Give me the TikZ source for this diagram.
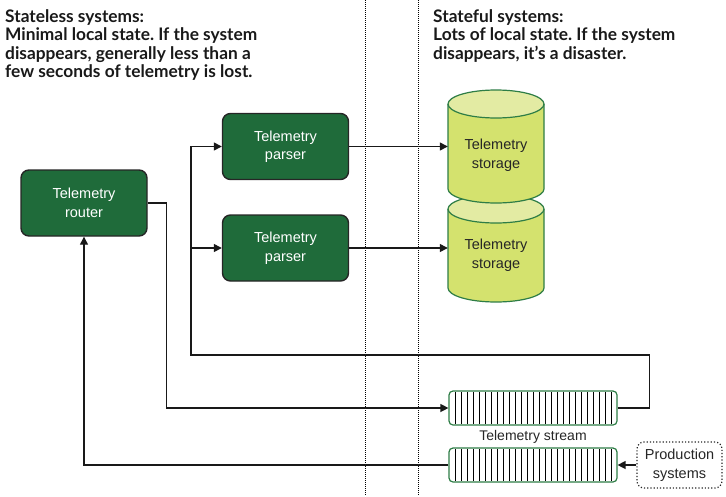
\documentclass[tikz,border=0pt]{standalone}
\usepackage{fontspec}
\setmainfont{Liberation Sans}
\newfontfamily\headfont{Lato}
\usetikzlibrary{arrows.meta}
\frenchspacing
\definecolor{dkgreen}{HTML}{1F6B3A}
\definecolor{cylbodyc}{HTML}{D4E26E}
\definecolor{cyltopc}{HTML}{E3EBA3}
\definecolor{cyllinec}{HTML}{2E7D46}
\newcommand\drawcyl[3]{%
  \fill[cylbodyc] (#1-48,#2+14) -- (#1-48,#3-14)
    arc[start angle=180,end angle=0,x radius=48,y radius=14]
    -- (#1+48,#2+14)
    arc[start angle=0,end angle=-180,x radius=48,y radius=14] -- cycle;
  \filldraw[fill=cyltopc,draw=cyllinec,line width=1.2pt] (#1,#2+14) ellipse[x radius=48,y radius=14];
  \draw[cyllinec,line width=1.2pt] (#1-48,#2+14) -- (#1-48,#3-14)
    arc[start angle=180,end angle=0,x radius=48,y radius=14]
    -- (#1+48,#2+14);
}
\begin{document}
\begin{tikzpicture}[x=1pt,y=-1pt,
  box/.style={draw=black!85, line width=1.4pt, fill=dkgreen, rounded corners=8pt,
    text=white, align=center, minimum width=126pt, minimum height=66pt,
    font=\fontsize{14.5}{18.5}\selectfont, inner sep=0pt},
  stor/.style={align=center, minimum width=96pt, inner sep=0pt, text=black!85,
    font=\fontsize{14.5}{18.5}\selectfont},
  stream/.style={draw=cyllinec, line width=1.2pt, rounded corners=4pt, fill=white,
    minimum width=168pt, minimum height=34pt, inner sep=0pt},
  prodbox/.style={draw=black!85, dotted, line width=1.2pt, rounded corners=7pt,
    align=center, minimum width=85pt, minimum height=46pt, inner sep=0pt,
    text=black!85, font=\fontsize{14.5}{18.5}\selectfont},
  conn/.style={line width=1.3pt, draw=black!90},
  arr/.style={conn, -{Triangle[length=8pt,width=8pt]}},
  divider/.style={line width=1pt, dash pattern=on 1pt off 1pt},
  head/.style={anchor=north west, align=left, inner sep=0pt,
    font=\headfont\bfseries\fontsize{17.3}{18.6}\selectfont, text=black!90}]
\useasboundingbox (0,0) rectangle (726,496);

% dividers
\draw[divider] (365,0) -- (365,496);
\draw[divider] (418,0) -- (418,496);

% headings
\node[head] (h1) at (5,9) {Stateless systems:\\Minimal local state. If the system\\disappears, generally less than a\\few seconds of telemetry is lost.};
\node[head] (h2) at (433,9) {Stateful systems:\\Lots of local state. If the system\\disappears, it’s a disaster.};

% cylinders
\drawcyl{496}{195}{302}
\drawcyl{496}{90}{203}
\node[stor] (st1) at (496,155) {Telemetry\\storage};
\node[stor] (st2) at (496,255) {Telemetry\\storage};

% boxes
\node[box] (router) at (84,203) {Telemetry\\router};
\node[box] (p1) at (285.5,146.5) {Telemetry\\parser};
\node[box] (p2) at (285.5,248) {Telemetry\\parser};

% streams
\node[stream] (s1) at (533,408) {};
\node[stream] (s2) at (533,465) {};
\foreach \i in {1,...,27} {
  \draw[line width=0.9pt] (449+\i*6,392) -- (449+\i*6,424);
  \draw[line width=0.9pt] (449+\i*6,449) -- (449+\i*6,481);
}
\node[stor, font=\fontsize{14}{17}\selectfont] (lbl) at (533,437) {Telemetry stream};

\node[prodbox] (prod) at (679.5,465) {Production\\systems};

% connectors
\coordinate (j) at (191,355);
\draw[arr] (router.east) -- ++(19,0) |- (s1.west);
\draw[arr] (s2.west) -| (router.south);
\draw[arr] (s1.east) -- ++(32,0) |- (j) |- (p1.west);
\draw[arr] (j) |- (p2.west);
\draw[arr] (p1.east) -- (p1.east -| st1.west);
\draw[arr] (p2.east) -- (p2.east -| st2.west);
\draw[arr] (prod.west) -- (s2.east);
\end{tikzpicture}
\end{document}
